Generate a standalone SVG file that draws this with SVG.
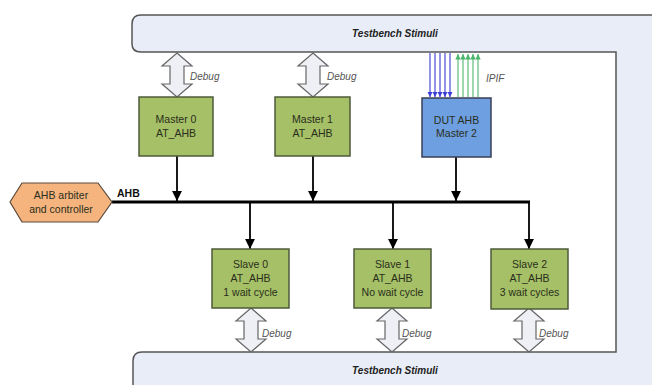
<svg xmlns="http://www.w3.org/2000/svg" width="652" height="385" viewBox="0 0 652 385">
  <style>
    text { font-family: "Liberation Sans", Arial, sans-serif; }
    .frame { fill: #e9edf7; stroke: #555; stroke-width: 1.5; }
    .band-label { font-size: 10px; font-weight: bold; font-style: italic; fill: #222; text-anchor: middle; }
    .green { fill: #a5c066; stroke: #4d5a3a; stroke-width: 1.5; }
    .blue { fill: #6e9fe0; stroke: #3a3f55; stroke-width: 1.5; }
    .hex { fill: #f5b47e; stroke: #5a4a3c; stroke-width: 1.2; }
    .node-text { font-size: 10.5px; fill: #2a2e1c; text-anchor: middle; }
    .note { font-size: 10px; font-style: italic; fill: #555; }
    .dbl { fill: #eef0f6; stroke: #666; stroke-width: 1.2; }
    .conn { stroke: #000; stroke-width: 1.8; fill: none; marker-end: url(#head); }
    .bus { stroke: #000; stroke-width: 3; fill: none; }
    .sig-in { stroke: #3b3bd6; stroke-width: 1.1; marker-end: url(#blueHead); }
    .sig-out { stroke: #4cb66c; stroke-width: 1.1; marker-end: url(#greenHead); }
  </style>
  <defs>
    <marker id="head" viewBox="0 0 10 10" refX="10" refY="5" markerWidth="5.5" markerHeight="5.5" orient="auto" markerUnits="strokeWidth">
      <path d="M0,0 L10,5 L0,10 Z" fill="#000"/>
    </marker>
    <marker id="blueHead" viewBox="0 0 10 10" refX="10" refY="5" markerWidth="5" markerHeight="5" orient="auto" markerUnits="strokeWidth">
      <path d="M0,0 L10,5 L0,10 Z" fill="#3b3bd6"/>
    </marker>
    <marker id="greenHead" viewBox="0 0 10 10" refX="10" refY="5" markerWidth="5" markerHeight="5" orient="auto" markerUnits="strokeWidth">
      <path d="M0,0 L10,5 L0,10 Z" fill="#4cb66c"/>
    </marker>
    <!-- two-way hollow arrow, 30 wide, 44 tall, tip at top centre -->
    <path id="twoWay" d="M0,0 L15,13 L7,13 L7,31 L15,31 L0,44 L-15,31 L-7,31 L-7,13 L-15,13 Z"/>
  </defs>

  <rect width="652" height="385" fill="#fff"/>

  <!-- testbench stimuli frame wrapping the bus system -->
  <g id="testbench">
    <path class="frame" d="M662,15 H141 Q132,15 132,24 V44 Q132,52 141,52 H616 V352 H142 Q133,352 133,361 V395 H662 Z"/>
    <text class="band-label" x="395" y="37">Testbench Stimuli</text>
    <text class="band-label" x="395" y="374">Testbench Stimuli</text>
  </g>

  <!-- debug ports -->
  <g id="debug-ports">
    <use href="#twoWay" class="dbl" x="177" y="53"/>
    <text class="note" x="190" y="80">Debug</text>
    <use href="#twoWay" class="dbl" x="313" y="53"/>
    <text class="note" x="327" y="80">Debug</text>
    <use href="#twoWay" class="dbl" x="251" y="308"/>
    <text class="note" x="262" y="337">Debug</text>
    <use href="#twoWay" class="dbl" x="392" y="308"/>
    <text class="note" x="402" y="337">Debug</text>
    <use href="#twoWay" class="dbl" x="529" y="308"/>
    <text class="note" x="539" y="337">Debug</text>
  </g>

  <!-- IPIF signals into and out of the DUT -->
  <g id="ipif">
    <line class="sig-in" x1="430" y1="53" x2="430" y2="97"/>
    <line class="sig-in" x1="435" y1="53" x2="435" y2="97"/>
    <line class="sig-in" x1="440" y1="53" x2="440" y2="97"/>
    <line class="sig-in" x1="445" y1="53" x2="445" y2="97"/>
    <line class="sig-in" x1="450" y1="53" x2="450" y2="97"/>
    <line class="sig-out" x1="458" y1="97" x2="458" y2="54"/>
    <line class="sig-out" x1="463" y1="97" x2="463" y2="54"/>
    <line class="sig-out" x1="468" y1="97" x2="468" y2="54"/>
    <line class="sig-out" x1="473" y1="97" x2="473" y2="54"/>
    <line class="sig-out" x1="478" y1="97" x2="478" y2="54"/>
    <text class="note" x="486" y="82">IPIF</text>
  </g>

  <!-- bus and connectors -->
  <g id="connectors">
    <path class="bus" d="M112,202 H530"/>
    <path class="conn" d="M177,156 V201"/>
    <path class="conn" d="M313,156 V201"/>
    <path class="conn" d="M456,157 V201"/>
    <path class="conn" d="M250,203 V249"/>
    <path class="conn" d="M393,203 V249"/>
    <path class="conn" d="M529,201 V249"/>
    <text x="117" y="197" font-size="10.5" font-weight="bold" fill="#111">AHB</text>
  </g>

  <g id="arbiter">
    <polygon class="hex" points="10,202 22,183 98,183 112,202 98,222 22,222"/>
    <text class="node-text" x="61" y="199">AHB arbiter</text>
    <text class="node-text" x="61" y="213">and controller</text>
  </g>

  <g id="master0">
    <rect class="green" x="139" y="97" width="74" height="59"/>
    <text class="node-text" x="176" y="123">Master 0</text>
    <text class="node-text" x="176" y="137">AT_AHB</text>
  </g>

  <g id="master1">
    <rect class="green" x="275" y="97" width="75" height="59"/>
    <text class="node-text" x="312.5" y="123">Master 1</text>
    <text class="node-text" x="312.5" y="137">AT_AHB</text>
  </g>

  <g id="master2">
    <rect class="blue" x="422" y="98" width="69" height="59"/>
    <text class="node-text" x="456.5" y="124">DUT AHB</text>
    <text class="node-text" x="456.5" y="137">Master 2</text>
  </g>

  <g id="slave0">
    <rect class="green" x="212" y="249" width="77" height="59"/>
    <text class="node-text" x="250.5" y="268">Slave 0</text>
    <text class="node-text" x="250.5" y="282">AT_AHB</text>
    <text class="node-text" x="250.5" y="296">1 wait cycle</text>
  </g>

  <g id="slave1">
    <rect class="green" x="354" y="249" width="77" height="59"/>
    <text class="node-text" x="392.5" y="268">Slave 1</text>
    <text class="node-text" x="392.5" y="282">AT_AHB</text>
    <text class="node-text" x="392.5" y="296">No wait cycle</text>
  </g>

  <g id="slave2">
    <rect class="green" x="491" y="249" width="77" height="60"/>
    <text class="node-text" x="529.5" y="268">Slave 2</text>
    <text class="node-text" x="529.5" y="282">AT_AHB</text>
    <text class="node-text" x="529.5" y="296">3 wait cycles</text>
  </g>
</svg>
